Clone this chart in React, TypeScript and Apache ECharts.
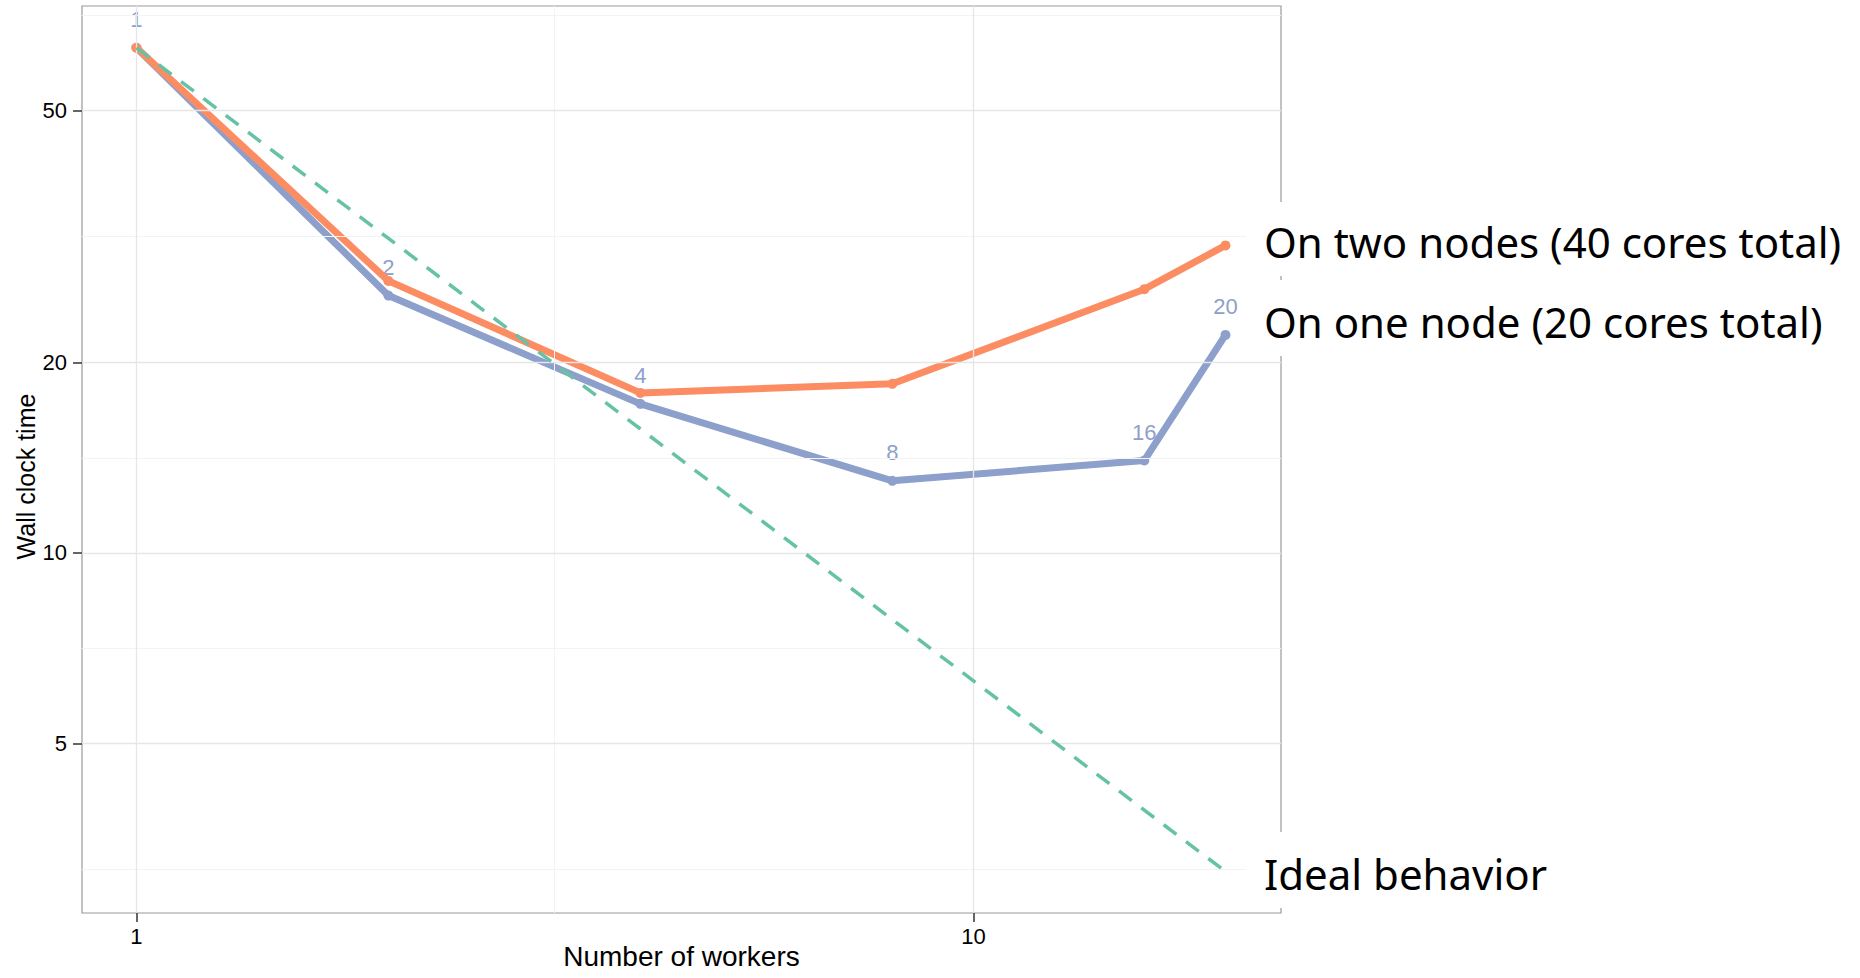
import React, { useEffect, useRef } from "react";
import * as echarts from "echarts";

// ---- data ----
const workers = [1, 2, 4, 8, 16, 20];
const oneNodeTime = [62.8, 25.5, 17.2, 13.0, 14.0, 22.1];
const twoNodesTime = [62.8, 26.9, 17.9, 18.5, 26.1, 30.6];
const idealWorkers = [1, 20];
const idealTime = [62.8, 3.14];
const xTicks = [1, 10];
const yTicks = [5, 10, 20, 50];
const xMinorGrid = [3.16];
const yMinorGrid = [3.16, 7.07, 14.1, 31.6, 70.7];
const annotations = [
  "On two nodes (40 cores total)",
  "On one node (20 cores total)",
  "Ideal behavior",
];

const BLUE = "#8DA0CB";
const ORANGE = "#FC8D62";
const GREEN = "#66C2A5";

export default function App() {
  const ref = useRef<HTMLDivElement>(null);
  useEffect(() => {
    if (!ref.current) return;
    const chart = echarts.init(ref.current, undefined, { renderer: "svg" });
    const font = "Liberation Sans, Arial, Helvetica, sans-serif";
    const annFont = "Noto Sans, Open Sans, sans-serif";

    const gridData = [
      ...xMinorGrid.map((v) => ({ xAxis: v, lineStyle: { color: "#f3f3f3", width: 1 } })),
      ...yMinorGrid.map((v) => ({ yAxis: v, lineStyle: { color: "#f3f3f3", width: 1 } })),
      ...xTicks.map((v) => ({ xAxis: v, lineStyle: { color: "#e6e6e6", width: 1.3 } })),
      ...yTicks.map((v) => ({ yAxis: v, lineStyle: { color: "#e6e6e6", width: 1.3 } })),
    ];

    const annBoxes = [
      { y: 202, h: 74, text: annotations[0], cy: 241 },
      { y: 280, h: 76, text: annotations[1], cy: 321 },
      { y: 832, h: 76, text: annotations[2], cy: 873 },
    ];

    const graphics: any[] = [];
    annBoxes.forEach((b) => {
      graphics.push({
        type: "rect",
        z: 100,
        shape: { x: 1246, y: b.y, width: 614, height: b.h },
        style: { fill: "#ffffff" },
      });
      graphics.push({
        type: "text",
        z: 101,
        x: 1264,
        y: b.cy,
        style: {
          text: b.text,
          fill: "#000000",
          font: `42px ${annFont}`,
          verticalAlign: "middle",
          align: "left",
        },
      });
    });

    chart.setOption({
      animation: false,
      backgroundColor: "#ffffff",
      grid: {
        left: 82,
        top: 6,
        width: 1199,
        height: 907,
        outerBoundsMode: "none",
        containLabel: false,
        show: true,
        borderColor: "#9a9a9a",
        borderWidth: 1.2,
        backgroundColor: "transparent",
      },
      xAxis: {
        type: "log",
        logBase: 10,
        min: 0.861,
        max: 23.3,
        name: "Number of workers",
        nameLocation: "middle",
        nameGap: 29,
        nameMoveOverlap: false,
        nameTextStyle: { fontFamily: font, fontSize: 28, lineHeight: 28, color: "#000" },
        axisLine: { show: false },
        axisTick: {
          show: true,
          length: 9,
          inside: false,
          customValues: xTicks,
          lineStyle: { color: "#333", width: 1.5 },
        },
        axisLabel: {
          customValues: xTicks,
          fontFamily: font,
          fontSize: 22,
          color: "#000",
          margin: 12,
          formatter: (v: number) => String(v),
        },
        splitLine: { show: false },
        minorSplitLine: { show: false },
      },
      yAxis: {
        type: "log",
        logBase: 10,
        min: 2.7,
        max: 73.1,
        name: "Wall clock time",
        nameLocation: "middle",
        nameGap: 44,
        nameMoveOverlap: false,
        nameTextStyle: { fontFamily: font, fontSize: 25, color: "#000", padding: [0, 34, 0, 0] },
        axisLine: { show: false },
        axisTick: {
          show: true,
          length: 9,
          inside: false,
          customValues: yTicks,
          lineStyle: { color: "#333", width: 1.5 },
        },
        axisLabel: {
          customValues: yTicks,
          fontFamily: font,
          fontSize: 22,
          color: "#000",
          margin: 15,
          formatter: (v: number) => String(v),
        },
        splitLine: { show: false },
        minorSplitLine: { show: false },
      },
      graphic: graphics,
      series: [
        {
          type: "line",
          name: "grid",
          data: [],
          z: 0,
          silent: true,
          markLine: {
            silent: true,
            symbol: ["none", "none"],
            label: { show: false },
            lineStyle: { type: "solid" },
            data: gridData,
          },
        },
        {
          type: "line",
          name: "On one node (20 cores total)",
          data: workers.map((w, i) => [w, oneNodeTime[i]]),
          z: 3,
          symbol: "circle",
          symbolSize: 10,
          lineStyle: { color: BLUE, width: 7 },
          itemStyle: { color: BLUE },
          label: {
            show: true,
            position: "top",
            distance: 12,
            fontFamily: font,
            fontSize: 22,
            color: BLUE,
            formatter: (p: any) => String(p.value[0]),
          },
        },
        {
          type: "line",
          name: "On two nodes (40 cores total)",
          data: workers.map((w, i) => [w, twoNodesTime[i]]),
          z: 4,
          symbol: "circle",
          symbolSize: 10,
          lineStyle: { color: ORANGE, width: 7 },
          itemStyle: { color: ORANGE },
        },
        {
          type: "line",
          name: "Ideal behavior",
          data: idealWorkers.map((w, i) => [w, idealTime[i]]),
          z: 5,
          symbol: "none",
          lineStyle: { color: GREEN, width: 3.5, type: [16, 12] },
        },
      ],
    });
    return () => chart.dispose();
  }, []);
  return (
    <div
      ref={ref}
      style={{ position: "absolute", left: 0, top: 0, width: 1860, height: 978 }}
    />
  );
}
